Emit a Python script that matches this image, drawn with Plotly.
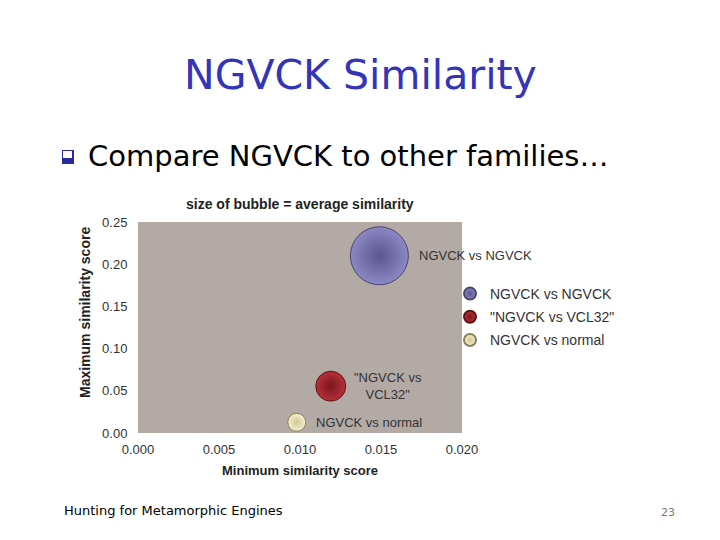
import plotly.graph_objects as go

# data
names = ["NGVCK vs NGVCK", "\"NGVCK vs VCL32\"", "NGVCK vs normal"]
labels = ["NGVCK vs NGVCK", "\"NGVCK vs<br>VCL32\"", "NGVCK vs normal"]
min_score = [0.0149, 0.0119, 0.0098]
max_score = [0.210, 0.0555, 0.0127]
avg_score = [0.0120, 0.0032, 0.00115]

colors = ["#8c88c4", "#b8303a", "#f6f1cc"]
edge = ["#4a4470", "#5e1418", "#8a825c"]
shade = ["#5b5590", "#78161c", "#cfc79a"]

# the page body adds an 8px offset, so the figure is drawn 8px smaller
OFF = 8
W, H = 712, 532
L, R, T, B = 138 - OFF, 462 - OFF, 222 - OFF, 433 - OFF


def px(x):
    return (x - OFF - L) / (R - L)


def py(y):
    return (B - (y - OFF)) / (B - T)


fig = go.Figure()
sizeref = 2 * max(avg_score) / (58 ** 2)
for i in range(len(names)):
    fig.add_trace(go.Scatter(
        x=[min_score[i]], y=[max_score[i]], mode="markers", name=names[i],
        legendgroup=names[i],
        marker=dict(size=[avg_score[i]], sizemode="area", sizeref=sizeref,
                    color=colors[i], gradient=dict(type="radial", color=shade[i]),
                    line=dict(color=edge[i], width=1), opacity=1),
        cliponaxis=False,
    ))

# bubble labels
label_shift = [38, 57, 17]
for i in range(len(names)):
    fig.add_annotation(x=min_score[i], y=max_score[i], text=labels[i],
                       xshift=label_shift[i], xanchor="left" if i != 1 else "center",
                       yanchor="middle", showarrow=False, align="center",
                       font=dict(family="Liberation Sans", size=13, color="#333333"))

fig.add_annotation(x=px(300), y=py(204), xref="paper", yref="paper",
                   xanchor="center", yanchor="middle",
                   text="<b>size of bubble = average similarity</b>", showarrow=False,
                   font=dict(family="Liberation Sans", size=14, color="#222222"))
fig.add_annotation(x=px(300), y=py(470), xref="paper", yref="paper",
                   xanchor="center", yanchor="middle",
                   text="<b>Minimum similarity score</b>", showarrow=False,
                   font=dict(family="Liberation Sans", size=13, color="#222222"))
fig.add_annotation(x=px(85), y=py(313), xref="paper", yref="paper",
                   xanchor="center", yanchor="middle", textangle=-90,
                   text="<b>Maximum similarity score</b>", showarrow=False,
                   font=dict(family="Liberation Sans", size=14, color="#222222"))

# slide text
fig.add_annotation(x=px(360), y=py(75), xref="paper", yref="paper",
                   xanchor="center", yanchor="middle",
                   text="NGVCK Similarity", showarrow=False,
                   font=dict(family="DejaVu Sans", size=41, color="#3434b8"))
fig.add_annotation(x=px(86), y=py(156), xref="paper", yref="paper",
                   xanchor="left", yanchor="middle",
                   text="Compare NGVCK to other families…", showarrow=False,
                   font=dict(family="DejaVu Sans", size=29, color="#000000"))
fig.add_annotation(x=px(62), y=py(510), xref="paper", yref="paper",
                   xanchor="left", yanchor="middle",
                   text="Hunting for Metamorphic Engines", showarrow=False,
                   font=dict(family="DejaVu Sans", size=13, color="#000000"))
fig.add_annotation(x=px(677), y=py(512), xref="paper", yref="paper",
                   xanchor="right", yanchor="middle",
                   text="23", showarrow=False,
                   font=dict(family="DejaVu Sans", size=11, color="#777777"))

# bullet square
fig.add_shape(type="rect", xref="paper", yref="paper",
              x0=px(62), x1=px(74), y0=py(164), y1=py(150),
              fillcolor="#2a2aa0", line=dict(width=0))
fig.add_shape(type="rect", xref="paper", yref="paper",
              x0=px(63), x1=px(72), y0=py(158), y1=py(151),
              fillcolor="white", line=dict(width=0))

fig.update_layout(
    width=W, height=H,
    margin=dict(l=L, r=W - R, t=T, b=H - B),
    paper_bgcolor="white", plot_bgcolor="#b3aaa6",
    font=dict(family="Liberation Sans", size=13, color="#333333"),
    showlegend=True,
    legend=dict(x=px(450), y=py(278), xanchor="left", yanchor="top",
                itemsizing="constant", bgcolor="rgba(0,0,0,0)",
                font=dict(family="Liberation Sans", size=14, color="#333333"),
                tracegroupgap=2),
    xaxis=dict(range=[0, 0.02], tickvals=[0, 0.005, 0.01, 0.015, 0.02],
               tickformat=".3f", showgrid=False, zeroline=False,
               ticks="outside", ticklen=4, tickcolor="rgba(0,0,0,0)"),
    yaxis=dict(range=[0, 0.25], tickvals=[0, 0.05, 0.1, 0.15, 0.2, 0.25],
               tickformat=".2f", showgrid=False, zeroline=False,
               ticks="outside", ticklen=7, tickcolor="rgba(0,0,0,0)"),
)

fig.write_html("out.html")
